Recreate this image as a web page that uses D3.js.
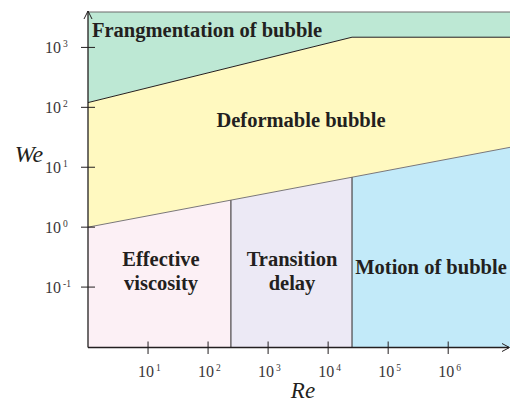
<!DOCTYPE html>
<html>
<head>
<meta charset="utf-8">
<script src="https://cdn.jsdelivr.net/npm/d3@7"></script>
<style>
  html, body { margin: 0; padding: 0; background: #fff; }
  svg { display: block; }
  text { font-family: "Liberation Serif", "Times New Roman", serif; }
</style>
</head>
<body>
<svg id="chart" width="510" height="403"></svg>
<script>
// Regime map of bubble behaviour in the Re–We plane (log–log)
const reTicks = [1, 2, 3, 4, 5, 6];          // exponents of 10 on Re axis
const weTicks = [-1, 0, 1, 2, 3];            // exponents of 10 on We axis
const reDomain = [1, 1.07e7];
const weDomain = [1e-2, 3.9e3];

// Boundary between fragmentation and deformable regimes (Re, We)
const fragBoundary = [[1, 120], [2.5e4, 1480], [1.07e7, 1480]];
// Boundary between deformable and lower regimes (Re, We)
const deformBoundary = [[1, 1], [1.07e7, 21.5]];
// Re values separating the lower regimes
const regimeSplits = [240, 2.5e4];

const regions = ["Effective viscosity", "Transition delay", "Motion of bubble"];
const regionColors = ["#fcf0f5", "#ece9f5", "#c2eaf9"];

const svg = d3.select("#chart");
const x = d3.scaleLog().domain(reDomain).range([88, 510]);
const y = d3.scaleLog().domain(weDomain).range([347, 12]);

// We along the lower boundary (straight line in log–log)
const lowerWe = re => {
  const [a, b] = deformBoundary;
  const t = (Math.log10(re) - Math.log10(a[0])) / (Math.log10(b[0]) - Math.log10(a[0]));
  return Math.pow(10, Math.log10(a[1]) + t * (Math.log10(b[1]) - Math.log10(a[1])));
};

const line = d3.line().x(d => x(d[0])).y(d => y(d[1]));

// Green: fragmentation zone
const greenPts = [[reDomain[0], weDomain[1]], ...fragBoundary, [reDomain[1], weDomain[1]]];
svg.append("path").attr("d", line(greenPts) + "Z").attr("fill", "#bde8d4");

// Yellow: deformable zone
const yellowPts = [...fragBoundary, ...deformBoundary.slice().reverse()];
svg.append("path").attr("d", line(yellowPts) + "Z").attr("fill", "#fff9c0");

// Lower three zones
const edges = [reDomain[0], ...regimeSplits, reDomain[1]];
regions.forEach((r, i) => {
  const r0 = edges[i], r1 = edges[i + 1];
  const pts = [[r0, weDomain[0]], [r0, lowerWe(r0)], [r1, lowerWe(r1)], [r1, weDomain[0]]];
  svg.append("path").attr("d", line(pts) + "Z").attr("fill", regionColors[i]);
});

// Boundary lines
svg.append("path").attr("d", line([[reDomain[0], weDomain[1]], [reDomain[1], weDomain[1]]]))
  .attr("stroke", "#6d6a6b").attr("stroke-width", 1.2).attr("fill", "none");
svg.append("path").attr("d", line(fragBoundary))
  .attr("stroke", "#231f20").attr("stroke-width", 1).attr("fill", "none");
svg.append("path").attr("d", line(deformBoundary))
  .attr("stroke", "#7a7778").attr("stroke-width", 1).attr("fill", "none");
regimeSplits.forEach(re => {
  svg.append("line")
    .attr("x1", x(re)).attr("x2", x(re))
    .attr("y1", y(lowerWe(re))).attr("y2", y(weDomain[0]))
    .attr("stroke", "#4a4647").attr("stroke-width", 1.2);
});

// Axes with arrows
const axisColor = "#231f20";
svg.append("line").attr("x1", 88).attr("x2", 88).attr("y1", 11).attr("y2", 347.5)
  .attr("stroke", axisColor).attr("stroke-width", 1.3);
svg.append("path").attr("d", "M84,19 L88,11 L92,19").attr("fill", "none")
  .attr("stroke", axisColor).attr("stroke-width", 1);
svg.append("line").attr("x1", 88).attr("x2", 509).attr("y1", 347.5).attr("y2", 347.5)
  .attr("stroke", axisColor).attr("stroke-width", 1.3);
svg.append("path").attr("d", "M502,343.5 L509.5,347.5 L502,351.5").attr("fill", "none")
  .attr("stroke", axisColor).attr("stroke-width", 1);

// Y ticks
weTicks.forEach(e => {
  const yy = y(Math.pow(10, e));
  svg.append("line").attr("x1", 81).attr("x2", 95).attr("y1", yy).attr("y2", yy)
    .attr("stroke", axisColor).attr("stroke-width", 1);
  const t = svg.append("text").attr("x", 45).attr("y", yy + 5.5)
    .attr("font-size", 16).attr("fill", "#3a3637");
  t.append("tspan").text("10");
  t.append("tspan").attr("dx", 2).attr("dy", -6).attr("font-size", 9.5).text(e);
});

// X ticks
reTicks.forEach(e => {
  const xx = x(Math.pow(10, e));
  svg.append("line").attr("x1", xx).attr("x2", xx).attr("y1", 341.5).attr("y2", 354)
    .attr("stroke", axisColor).attr("stroke-width", 1);
  const t = svg.append("text").attr("x", xx - 10).attr("y", 377)
    .attr("font-size", 16).attr("fill", "#3a3637");
  t.append("tspan").text("10");
  t.append("tspan").attr("dx", 2).attr("dy", -6).attr("font-size", 9.5).text(e);
});

// Axis titles
svg.append("text").attr("x", 303).attr("y", 398).attr("text-anchor", "middle")
  .attr("font-size", 23).attr("font-style", "italic").attr("fill", "#231f20").text("Re");
svg.append("text").attr("x", 29).attr("y", 162).attr("text-anchor", "middle")
  .attr("font-size", 24).attr("font-style", "italic").attr("fill", "#231f20").text("We");

// Region labels
const lbl = (txt, xx, yy, anchor) => svg.append("text").attr("x", xx).attr("y", yy)
  .attr("text-anchor", anchor || "middle").attr("font-size", 20.5).attr("font-weight", "bold")
  .attr("fill", "#231f20").text(txt);
lbl("Frangmentation of bubble", 92, 37, "start");
lbl("Deformable bubble", 301, 127);
lbl("Effective", 161, 266);
lbl("viscosity", 161, 290);
lbl("Transition", 292, 266);
lbl("delay", 292, 290);
lbl("Motion of bubble", 431, 274);
</script>
</body>
</html>
